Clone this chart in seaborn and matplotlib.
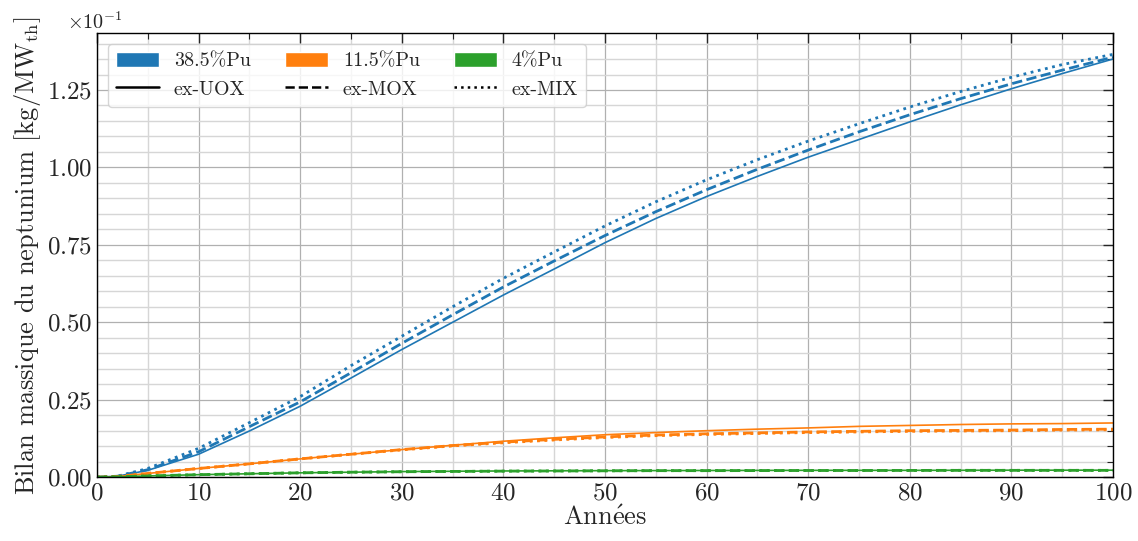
import matplotlib
matplotlib.use("Agg")
import matplotlib.pyplot as plt
from matplotlib.patches import Patch
from matplotlib.lines import Line2D
from matplotlib.ticker import MultipleLocator
import seaborn as sns
import pandas

# values, in units of 1e-1 kg/MWth
SCALE = 1e-1
years = [0, 2, 5, 10, 15, 20, 25, 30, 35, 40, 45, 50, 55, 60, 65, 70, 75, 80, 85, 90, 95, 100]

pu385_uox = [0, 0.003, 0.022, 0.074, 0.149, 0.229, 0.320, 0.412, 0.500, 0.588, 0.672, 0.757,
             0.835, 0.906, 0.971, 1.033, 1.090, 1.147, 1.202, 1.254, 1.303, 1.350]
pu385_mox = [0, 0.003, 0.024, 0.082, 0.163, 0.243, 0.337, 0.432, 0.524, 0.614, 0.698, 0.780,
             0.857, 0.928, 0.994, 1.056, 1.115, 1.170, 1.222, 1.270, 1.314, 1.356]
pu385_mix = [0, 0.003, 0.028, 0.093, 0.176, 0.260, 0.360, 0.455, 0.550, 0.642, 0.727, 0.811,
             0.889, 0.960, 1.025, 1.085, 1.141, 1.195, 1.245, 1.291, 1.332, 1.365]

pu115_uox = [0, 0.002, 0.012, 0.028, 0.043, 0.059, 0.074, 0.089, 0.103, 0.116, 0.127, 0.137,
             0.144, 0.150, 0.155, 0.159, 0.164, 0.167, 0.170, 0.172, 0.173, 0.175]
pu115_mox = [0, 0.002, 0.012, 0.028, 0.043, 0.059, 0.074, 0.089, 0.102, 0.113, 0.122, 0.130,
             0.136, 0.140, 0.143, 0.146, 0.148, 0.150, 0.151, 0.152, 0.154, 0.155]
pu115_mix = [0, 0.002, 0.012, 0.028, 0.043, 0.059, 0.074, 0.088, 0.101, 0.111, 0.120, 0.128,
             0.134, 0.138, 0.141, 0.144, 0.146, 0.148, 0.149, 0.150, 0.152, 0.153]

pu4_uox = [0, 0.001, 0.004, 0.008, 0.011, 0.014, 0.016, 0.018, 0.019, 0.020, 0.0205, 0.021,
           0.0212, 0.0215, 0.0218, 0.022, 0.022, 0.022, 0.0222, 0.0225, 0.0225, 0.0225]
pu4_mox = [0, 0.001, 0.004, 0.008, 0.011, 0.014, 0.016, 0.0175, 0.0185, 0.0195, 0.020, 0.0205,
           0.021, 0.021, 0.0212, 0.0215, 0.0215, 0.0218, 0.022, 0.022, 0.022, 0.022]
pu4_mix = pu4_mox

fuels = ["38.5%Pu", "11.5%Pu", "4%Pu"]
origins = ["ex-UOX", "ex-MOX", "ex-MIX"]
series = {
    ("38.5%Pu", "ex-UOX"): pu385_uox,
    ("38.5%Pu", "ex-MOX"): pu385_mox,
    ("38.5%Pu", "ex-MIX"): pu385_mix,
    ("11.5%Pu", "ex-UOX"): pu115_uox,
    ("11.5%Pu", "ex-MOX"): pu115_mox,
    ("11.5%Pu", "ex-MIX"): pu115_mix,
    ("4%Pu", "ex-UOX"): pu4_uox,
    ("4%Pu", "ex-MOX"): pu4_mox,
    ("4%Pu", "ex-MIX"): pu4_mix,
}

sns.set_style("white")
plt.rcParams["font.family"] = ["cmr10", "DejaVu Serif"]
plt.rcParams["mathtext.fontset"] = "cm"
plt.rcParams["axes.formatter.use_mathtext"] = True
plt.rcParams["axes.unicode_minus"] = False

colors = sns.color_palette("tab10", 3)
linestyles = {"ex-UOX": "-", "ex-MOX": "--", "ex-MIX": ":"}
linewidths = {"ex-UOX": 1.2, "ex-MOX": 2.0, "ex-MIX": 2.0}

rows = []
for (fuel, origin), values in series.items():
    for yr, v in zip(years, values):
        rows.append({"year": yr, "mass": v * SCALE, "fuel": fuel, "origin": origin})
df = pandas.DataFrame(rows)

fig = plt.figure(figsize=(11.38, 5.41), dpi=100)
ax = fig.add_axes([0.0852, 0.118, 0.8928, 0.821])

for fuel, color in zip(fuels, colors):
    for origin in origins:
        sub = df[(df["fuel"] == fuel) & (df["origin"] == origin)]
        sns.lineplot(
            data=sub, x="year", y="mass", ax=ax, color=color,
            linestyle=linestyles[origin], linewidth=linewidths[origin],
            legend=False,
        )

ax.set_xlim(0, 100)
ax.set_ylim(0, 0.1434)
ax.xaxis.set_major_locator(MultipleLocator(10))
ax.xaxis.set_minor_locator(MultipleLocator(5))
ax.yaxis.set_major_locator(MultipleLocator(0.025))
ax.yaxis.set_minor_locator(MultipleLocator(0.005))
ax.ticklabel_format(axis="y", style="sci", scilimits=(0, 0))
offset = ax.yaxis.get_offset_text()
offset.set_fontsize(14.5)
offset.set_x(-0.029)

ax.grid(which="major", color="#b0b0b0", linewidth=0.9)
ax.grid(which="minor", color="#d6d6d6", linewidth=1.0)
ax.set_axisbelow(True)

ax.tick_params(which="both", direction="in", top=True, right=True, labelsize=18)
ax.tick_params(which="major", length=7, width=1)
ax.tick_params(which="minor", length=4, width=0.8)
for spine in ax.spines.values():
    spine.set_color("black")
    spine.set_linewidth(1.0)

ax.set_xlabel(r"Ann$\mathrm{\acute{e}}$es", fontsize=19, labelpad=1)
ax.set_ylabel(r"Bilan massique du neptunium [kg/MW$_{\mathrm{th}}$]", fontsize=19, labelpad=3)

handles = []
for fuel, color, origin in zip(fuels, colors, origins):
    handles.append(Patch(facecolor=color, label=fuel))
    handles.append(Line2D([], [], color="black", linestyle=linestyles[origin],
                          linewidth=1.8, label=origin))
ax.legend(handles=handles, ncol=3, loc="upper left", fontsize=14.4,
          handlelength=2.15, handleheight=0.75, handletextpad=0.75,
          columnspacing=1.7, borderaxespad=0.55, framealpha=0.8)

fig.savefig("out.png", dpi=100)
